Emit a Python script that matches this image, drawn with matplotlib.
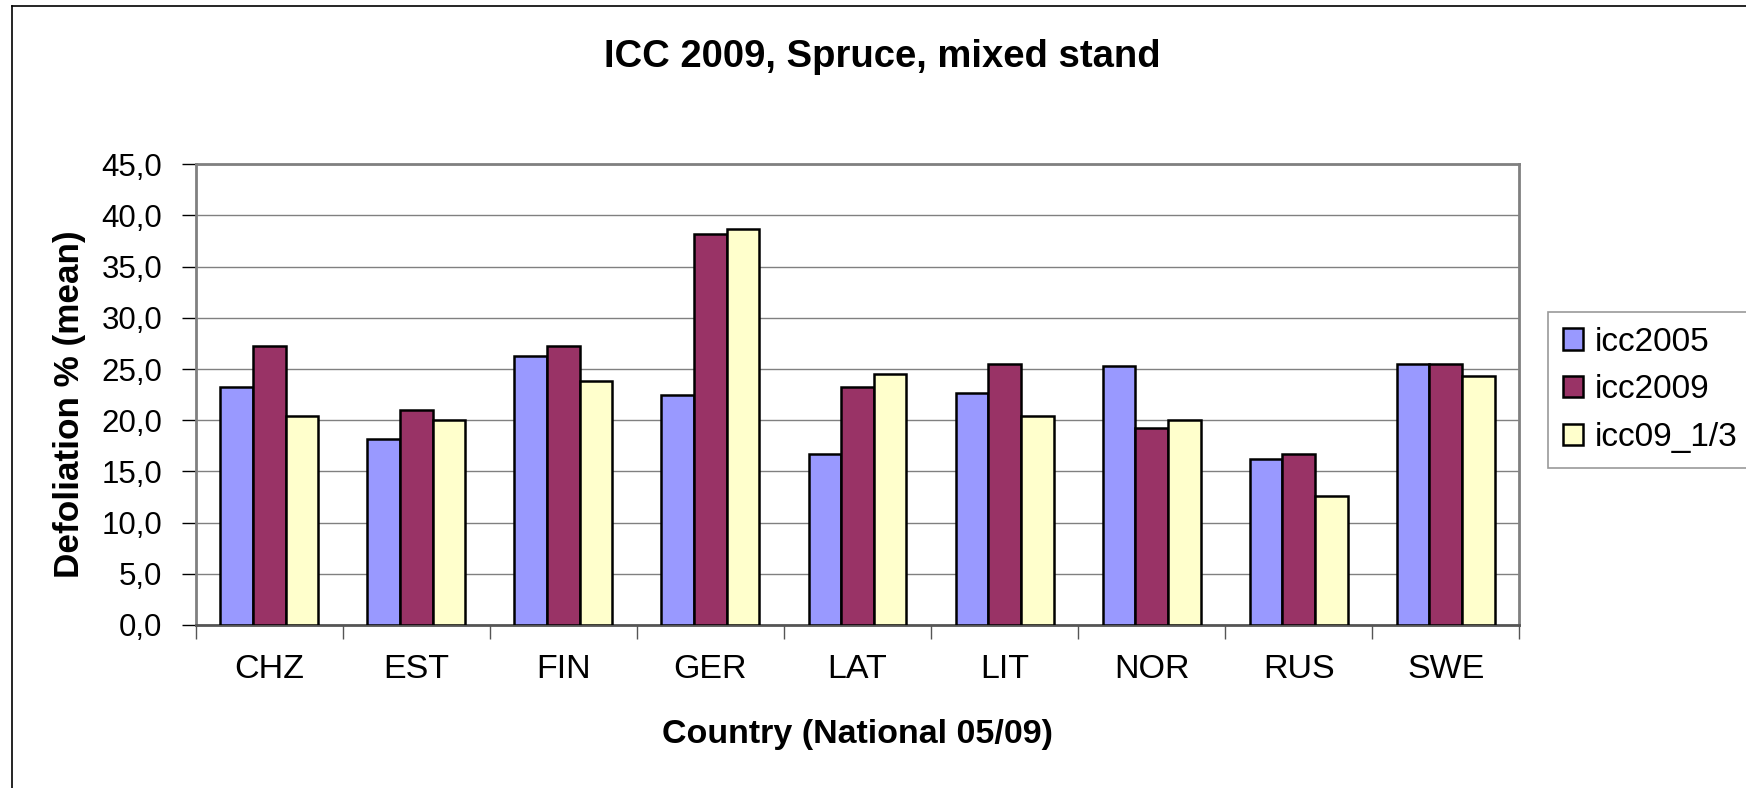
import numpy as np
import matplotlib
matplotlib.use('Agg')
from matplotlib import pyplot as plt
from matplotlib.lines import Line2D

plt.rcParams['font.family'] = ['Liberation Sans', 'DejaVu Sans']

countries = ['CHZ', 'EST', 'FIN', 'GER', 'LAT', 'LIT', 'NOR', 'RUS', 'SWE']
icc2005 = [23.2, 18.2, 26.3, 22.5, 16.7, 22.7, 25.3, 16.2, 25.5]
icc2009 = [27.3, 21.0, 27.3, 38.2, 23.2, 25.5, 19.2, 16.7, 25.5]
icc09_13 = [20.4, 20.0, 23.8, 38.7, 24.5, 20.4, 20.0, 12.6, 24.3]
series_names = ['icc2005', 'icc2009', 'icc09_1/3']
yticks = [0, 5, 10, 15, 20, 25, 30, 35, 40, 45]

W, H = 1746, 788
fig = plt.figure(figsize=(W / 100, H / 100), dpi=100)

# plot area placed in pixel terms
left, right, top, bottom = 195.7, 1519.3, 164.3, 625.0
ax = fig.add_axes([left / W, 1 - bottom / H, (right - left) / W, (bottom - top) / H])

x = np.arange(len(countries))
bw = 0.222
colors = ['#9999FF', '#993366', '#FFFFCC']
for i, (vals, name) in enumerate(zip([icc2005, icc2009, icc09_13], series_names)):
    ax.bar(x + (i - 1) * bw, vals, width=bw, color=colors[i], edgecolor='black',
           linewidth=1.8, label=name, zorder=3)

ax.set_xlim(-0.5, len(countries) - 0.5)
ax.set_ylim(0, 45)

ax.set_yticks(yticks)
ax.set_yticklabels([('%.1f' % v).replace('.', ',') for v in yticks], fontsize=22.5)
ax.yaxis.grid(True, color='#808080', linewidth=1.0, zorder=0)
ax.tick_params(axis='y', direction='out', length=10, width=1, color='black', pad=14)

# category ticks on the boundaries, labels in the middle
ax.set_xticks(np.arange(len(countries) + 1) - 0.5)
ax.set_xticklabels([])
ax.set_xticks(x, minor=True)
ax.set_xticklabels(countries, minor=True, fontsize=24.5)
ax.tick_params(axis='x', which='major', direction='out', length=10, width=1, color='#555555')
ax.tick_params(axis='x', which='minor', length=0, pad=21)

for s in ax.spines.values():
    s.set_color('#808080')
    s.set_linewidth(2)
ax.spines['bottom'].set_color('#555555')

fig.text(882 / W, 1 - 57 / H, 'ICC 2009, Spruce, mixed stand', ha='center', va='center',
         fontsize=27.5, fontweight='bold')
fig.text(857 / W, 1 - 735 / H, 'Country (National 05/09)', ha='center', va='center',
         fontsize=24.5, fontweight='bold')
fig.text(70 / W, 1 - 404 / H, 'Defoliation % (mean)', ha='center', va='center',
         fontsize=25.3, fontweight='bold', rotation=90)

leg = ax.legend(loc='upper left', bbox_to_anchor=(1547.7 / W, 1 - 311.7 / H),
                bbox_transform=fig.transFigure, borderaxespad=0, fontsize=24,
                fancybox=False, frameon=True, handlelength=0.6, handleheight=0.6,
                handletextpad=0.35, labelspacing=0.5, borderpad=0.45)
leg.get_frame().set_edgecolor('#808080')
leg.get_frame().set_linewidth(1.2)

# outer chart border (left and top edges visible)
fig.add_artist(Line2D([12 / W, 12 / W], [0, 1 - 6 / H], color='black', linewidth=1.2,
                      transform=fig.transFigure))
fig.add_artist(Line2D([12 / W, 1], [1 - 6 / H, 1 - 6 / H], color='black', linewidth=1.2,
                      transform=fig.transFigure))

fig.savefig('out.png', dpi=100)
